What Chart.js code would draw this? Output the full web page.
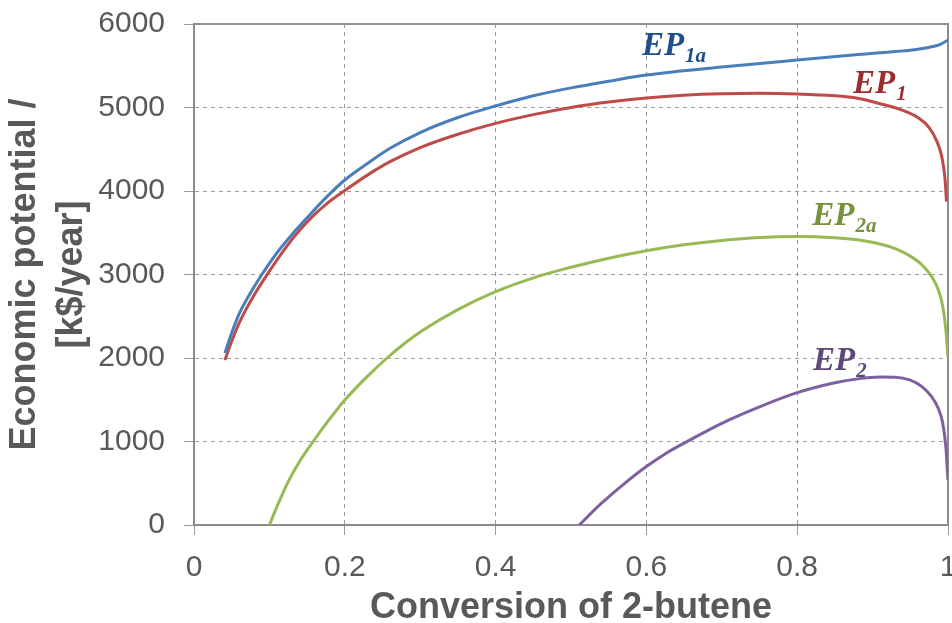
<!DOCTYPE html>
<html>
<head>
<meta charset="utf-8">
<script src="https://cdn.jsdelivr.net/npm/chart.js@4/dist/chart.umd.min.js"></script>
<style>
  html, body { margin: 0; padding: 0; background: #ffffff; }
  #wrap { width: 952px; height: 623px; }
</style>
</head>
<body>
<div id="wrap"><canvas id="c" width="952" height="623"></canvas></div>
<script>
// ---- Data ----
const ep1aX = [0.041, 0.05, 0.06, 0.075, 0.09, 0.11, 0.13, 0.15, 0.175, 0.2, 0.23, 0.26, 0.3, 0.35, 0.4, 0.45, 0.5, 0.55, 0.6, 0.7, 0.8, 0.87, 0.93, 0.96, 0.98, 0.99, 1.0];
const ep1aY = [2060, 2300, 2530, 2780, 3000, 3260, 3480, 3680, 3920, 4132, 4330, 4511, 4700, 4880, 5018, 5140, 5235, 5315, 5389, 5485, 5569, 5625, 5670, 5698, 5730, 5755, 5808];

const ep1X = [0.041, 0.05, 0.06, 0.075, 0.1, 0.13, 0.15, 0.175, 0.2, 0.23, 0.26, 0.3, 0.35, 0.4, 0.45, 0.5, 0.55, 0.6, 0.65, 0.7, 0.75, 0.8, 0.85, 0.88, 0.91, 0.94, 0.96, 0.975, 0.985, 0.992, 0.996, 0.998];
const ep1Y = [1976, 2200, 2420, 2680, 3040, 3420, 3630, 3840, 4005, 4190, 4351, 4520, 4680, 4810, 4915, 5000, 5065, 5115, 5148, 5165, 5170, 5162, 5140, 5110, 5045, 4965, 4880, 4760, 4600, 4400, 4150, 3872];

const ep2aX = [0.1, 0.11, 0.125, 0.14, 0.158, 0.18, 0.2, 0.23, 0.256, 0.28, 0.304, 0.35, 0.4, 0.45, 0.5, 0.55, 0.6, 0.65, 0.7, 0.75, 0.8, 0.85, 0.88, 0.91, 0.93, 0.95, 0.965, 0.978, 0.987, 0.993, 0.997, 1.0];
const ep2aY = [0, 220, 520, 760, 1000, 1270, 1497, 1780, 2000, 2180, 2335, 2580, 2794, 2960, 3086, 3195, 3285, 3355, 3408, 3443, 3455, 3440, 3415, 3365, 3310, 3220, 3120, 2980, 2820, 2620, 2350, 2000];

const ep2X = [0.511, 0.538, 0.57, 0.6, 0.63, 0.656, 0.7, 0.75, 0.8, 0.85, 0.88, 0.91, 0.93, 0.95, 0.965, 0.978, 0.987, 0.993, 0.997, 1.0];
const ep2Y = [0, 240, 490, 700, 880, 1010, 1218, 1415, 1585, 1704, 1750, 1772, 1770, 1735, 1660, 1540, 1400, 1220, 950, 539];

const seriesNames = ["EP1a", "EP1", "EP2a", "EP2"];
const lineColors = ["#4A7EBB", "#BE4B48", "#98B954", "#7D60A0"];

// In-plot labels: main text, subscript, anchor in data units (x, y = baseline)
const labelMain = ["EP", "EP", "EP", "EP"];
const labelSub = ["1a", "1", "2a", "2"];
const labelX = [0.594, 0.874, 0.820, 0.821];
const labelY = [5629, 5174, 3593, 1856];
const labelColors = ["#1F4E8C", "#9B2D2D", "#76923C", "#5F497A"];

const xTitle = "Conversion of 2-butene";
const yTitle = ["Economic potential /", "[k$/year]"];

const toPts = (xs, ys) => xs.map((x, i) => ({ x: x, y: ys[i] }));
const seriesData = [toPts(ep1aX, ep1aY), toPts(ep1X, ep1Y), toPts(ep2aX, ep2aY), toPts(ep2X, ep2Y)];

const TEXT = "#595959";
const GRID = "#9a9a9a";
const AXIS = "#8c8c8c";

const framePlugin = {
  id: "frame",
  beforeDatasetsDraw(chart) {
    const { ctx, chartArea: a } = chart;
    ctx.save();
    ctx.strokeStyle = AXIS;
    ctx.lineWidth = 2;
    ctx.beginPath();
    ctx.moveTo(a.left, a.top);
    ctx.lineTo(a.right, a.top);
    ctx.lineTo(a.right, a.bottom);
    ctx.stroke();
    ctx.restore();
  }
};

const labelPlugin = {
  id: "curveLabels",
  afterDatasetsDraw(chart) {
    const { ctx } = chart;
    const xs = chart.scales.x, ys = chart.scales.y;
    ctx.save();
    ctx.textBaseline = "alphabetic";
    ctx.textAlign = "left";
    for (let i = 0; i < labelMain.length; i++) {
      const px = xs.getPixelForValue(labelX[i]);
      const py = ys.getPixelForValue(labelY[i]);
      ctx.fillStyle = labelColors[i];
      ctx.font = "bold italic 33px 'Liberation Serif', 'DejaVu Serif', serif";
      ctx.fillText(labelMain[i], px, py);
      const w = ctx.measureText(labelMain[i]).width;
      ctx.font = "bold italic 21px 'Liberation Serif', 'DejaVu Serif', serif";
      ctx.fillText(labelSub[i], px + w + 1, py + 7);
    }
    ctx.restore();
  }
};

const fmt = v => String(Math.round(v * 1000) / 1000);

new Chart(document.getElementById("c"), {
  type: "line",
  data: {
    datasets: seriesData.map((d, i) => ({
      label: seriesNames[i],
      data: d,
      borderColor: lineColors[i],
      backgroundColor: lineColors[i],
      borderWidth: 3,
      pointRadius: 0,
      fill: false,
      cubicInterpolationMode: "monotone"
    }))
  },
  options: {
    responsive: false,
    animation: false,
    devicePixelRatio: 1,
    layout: { padding: { top: 24, right: 4, left: 0, bottom: 0 } },
    plugins: { legend: { display: false }, tooltip: { enabled: false } },
    scales: {
      x: {
        type: "linear",
        min: 0, max: 1,
        ticks: { stepSize: 0.2, color: TEXT, font: { family: "'Liberation Sans', Arial, sans-serif", size: 30 }, padding: 15, maxRotation: 0, callback: fmt },
        grid: { color: GRID, lineWidth: 1, tickLength: 10, drawTicks: true },
        border: { display: true, color: AXIS, width: 2, dash: [4, 4] },
        title: { display: true, text: xTitle, color: TEXT, font: { family: "'Liberation Sans', Arial, sans-serif", size: 36, weight: "bold", lineHeight: 0.85 }, padding: { top: 0, bottom: 0 } },
        afterFit(s) { s.height = 98; s.paddingLeft = 0; s.paddingRight = 0; }
      },
      y: {
        min: 0, max: 6000,
        ticks: { stepSize: 1000, color: TEXT, font: { family: "'Liberation Sans', Arial, sans-serif", size: 30 }, padding: 19, callback: fmt },
        grid: { color: GRID, lineWidth: 1, tickLength: 10, drawTicks: true },
        border: { display: true, color: AXIS, width: 2, dash: [4, 4] },
        title: { display: true, text: yTitle, color: TEXT, font: { family: "'Liberation Sans', Arial, sans-serif", size: 36, weight: "bold", lineHeight: 1.3 }, padding: { top: 2, bottom: 0 } },
        afterFit(s) { s.width = 194; s.paddingTop = 0; s.paddingBottom = 0; }
      }
    }
  },
  plugins: [framePlugin, labelPlugin]
});
</script>
</body>
</html>
